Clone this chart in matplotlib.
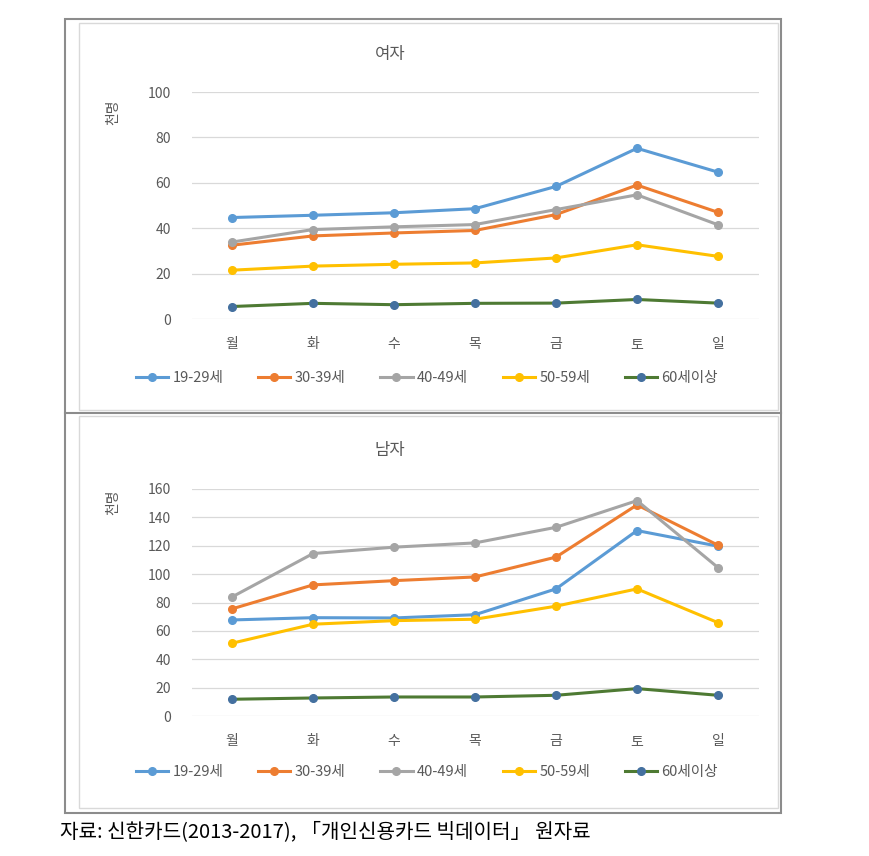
import matplotlib
matplotlib.use("Agg")
import matplotlib.pyplot as plt
from matplotlib.patches import Rectangle

plt.rcParams['font.family'] = ['Noto Sans CJK KR', 'DejaVu Sans']

days = ["월", "화", "수", "목", "금", "토", "일"]
groups = ["19-29세", "30-39세", "40-49세", "50-59세", "60세이상"]

female = {
    "19-29세": [44.7, 45.7, 46.8, 48.6, 58.4, 75.2, 64.7],
    "30-39세": [32.5, 36.6, 37.9, 39.0, 46.0, 59.0, 47.0],
    "40-49세": [33.9, 39.4, 40.6, 41.6, 48.2, 54.7, 41.5],
    "50-59세": [21.5, 23.3, 24.1, 24.7, 26.9, 32.7, 27.6],
    "60세이상": [5.5, 6.9, 6.3, 6.9, 7.0, 8.6, 7.0],
}
male = {
    "19-29세": [67.7, 69.3, 69.1, 71.4, 89.6, 130.7, 119.7],
    "30-39세": [75.5, 92.4, 95.4, 98.0, 112.0, 148.8, 120.4],
    "40-49세": [83.9, 114.5, 119.0, 122.0, 133.0, 151.8, 104.6],
    "50-59세": [51.3, 64.7, 67.2, 68.2, 77.4, 89.6, 65.8],
    "60세이상": [11.8, 12.7, 13.4, 13.4, 14.6, 19.3, 14.6],
}

line_colors = ["#5B9BD5", "#ED7D31", "#A5A5A5", "#FFC000", "#4E7A33"]
marker_colors = ["#5B9BD5", "#ED7D31", "#A5A5A5", "#FFC000", "#44709F"]

fig = plt.figure(figsize=(8.69, 8.56), dpi=100)
W, H = 869, 856


def fx(px):
    return px / W


def fy(py):
    return 1 - py / H


# frames
fig.patches.append(Rectangle((fx(65), fy(813)), fx(781) - fx(65), fy(19) - fy(813),
                             transform=fig.transFigure, fill=False,
                             edgecolor="#8C8C8C", lw=1.5))
fig.patches.append(Rectangle((fx(79), fy(410)), fx(778) - fx(79), fy(23) - fy(410),
                             transform=fig.transFigure, fill=False,
                             edgecolor="#D9D9D9", lw=1.0))
fig.patches.append(Rectangle((fx(79), fy(808)), fx(778) - fx(79), fy(416) - fy(808),
                             transform=fig.transFigure, fill=False,
                             edgecolor="#D9D9D9", lw=1.0))
fig.lines.append(plt.Line2D([fx(65), fx(781)], [fy(413), fy(413)],
                            transform=fig.transFigure, color="#8C8C8C", lw=1.5))


def draw(ax, data, ymax, title, title_y, legend_y, ylab_y):
    x = range(len(days))
    for g, lc, mc in zip(groups, line_colors, marker_colors):
        ax.plot(x, data[g], color=lc, lw=2.2, marker="o", markersize=5.5,
                markerfacecolor=mc, markeredgecolor=mc, label=g)
    ax.set_xlim(-0.5, len(days) - 0.5)
    ax.set_ylim(0, ymax)
    ax.set_yticks(range(0, ymax + 1, 20))
    ax.set_xticks(list(x))
    ax.set_xticklabels(days)
    ax.tick_params(axis="both", length=0, colors="#595959", labelsize=10)
    ax.tick_params(axis="x", pad=13)
    ax.tick_params(axis="y", pad=15)
    ax.grid(axis="y", color="#D9D9D9", lw=0.9)
    ax.set_axisbelow(True)
    for s in ax.spines.values():
        s.set_visible(False)
    fig.text(fx(390), fy(title_y), title, ha="center", va="center",
             fontsize=12, color="#595959")
    fig.text(fx(113), fy(ylab_y), "천명", ha="center", va="center",
             rotation=90, fontsize=10, color="#595959")
    handles, labels = ax.get_legend_handles_labels()
    fig.legend(handles, labels, loc="center", bbox_to_anchor=(fx(427), fy(legend_y)),
               ncol=5, frameon=False, fontsize=10.5, labelcolor="#595959",
               handlelength=2.2, columnspacing=2.4, handletextpad=0.3)


ax1 = fig.add_axes([fx(191.5), fy(319), fx(567), fy(92) - fy(319)])
draw(ax1, female, 100, "여자", 55, 378, 112)

ax2 = fig.add_axes([fx(191.5), fy(716), fx(567), fy(489) - fy(716)])
draw(ax2, male, 160, "남자", 450, 772, 502)

fig.text(fx(60), fy(832), "자료: 신한카드(2013-2017), 「개인신용카드 빅데이터」 원자료",
         ha="left", va="center", fontsize=14.5, color="black")

fig.savefig("out.png", dpi=100)
